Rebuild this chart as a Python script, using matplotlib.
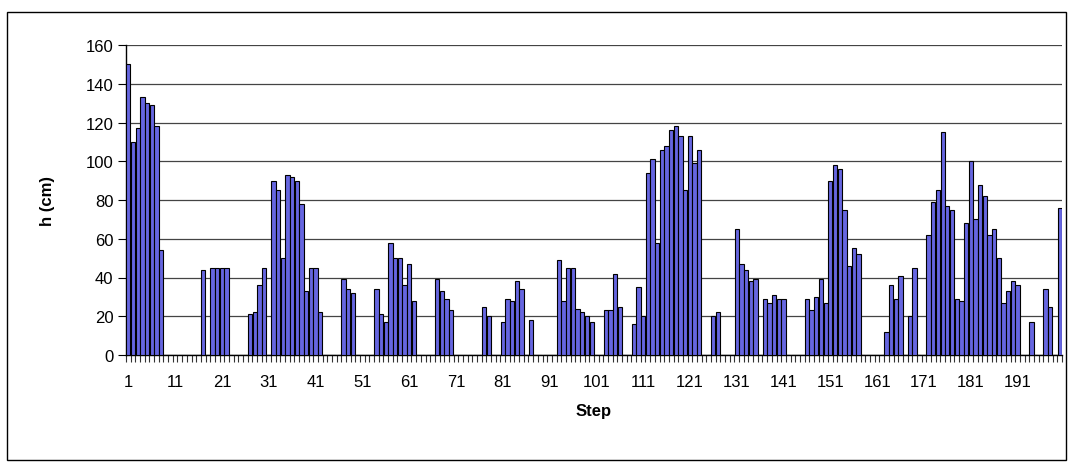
import numpy as np
import matplotlib.pyplot as plt
from matplotlib.patches import Rectangle

# bar height per step, cm (0 = no bar)
steps = np.arange(1, 201)
h_cm = np.zeros(200)
h_nonzero = {
    1: 150, 2: 110, 3: 117, 4: 133, 5: 130, 6: 129, 7: 118, 8: 54,
    17: 44, 19: 45, 20: 45, 21: 45, 22: 45,
    27: 21, 28: 22, 29: 36, 30: 45,
    32: 90, 33: 85, 34: 50, 35: 93, 36: 92, 37: 90, 38: 78, 39: 33, 40: 45, 41: 45, 42: 22,
    47: 39, 48: 34, 49: 32,
    54: 34, 55: 21, 56: 17, 57: 58, 58: 50, 59: 50, 60: 36, 61: 47, 62: 28,
    67: 39, 68: 33, 69: 29, 70: 23,
    77: 25, 78: 20,
    81: 17, 82: 29, 83: 28, 84: 38, 85: 34,
    87: 18,
    93: 49, 94: 28, 95: 45, 96: 45, 97: 24, 98: 22, 99: 20, 100: 17,
    103: 23, 104: 23, 105: 42, 106: 25,
    109: 16, 110: 35, 111: 20, 112: 94, 113: 101, 114: 58, 115: 106, 116: 108,
    117: 116, 118: 118, 119: 113, 120: 85, 121: 113, 122: 99, 123: 106,
    126: 20, 127: 22,
    131: 65, 132: 47, 133: 44, 134: 38, 135: 39,
    137: 29, 138: 27, 139: 31, 140: 29, 141: 29,
    146: 29, 147: 23, 148: 30, 149: 39, 150: 27, 151: 90, 152: 98, 153: 96,
    154: 75, 155: 46, 156: 55, 157: 52,
    163: 12, 164: 36, 165: 29, 166: 41,
    168: 20, 169: 45,
    172: 62, 173: 79, 174: 85, 175: 115, 176: 77, 177: 75, 178: 29, 179: 28,
    180: 68, 181: 100, 182: 70, 183: 88, 184: 82, 185: 62, 186: 65, 187: 50,
    188: 27, 189: 33, 190: 38, 191: 36,
    194: 17, 197: 34, 198: 25, 200: 76,
}
for k, v in h_nonzero.items():
    h_cm[k - 1] = v

tick_steps = np.arange(1, 192, 10)
y_ticks = np.arange(0, 161, 20)

plt.rcParams['font.family'] = ['Liberation Sans', 'DejaVu Sans']

fig = plt.figure(figsize=(10.70, 4.64), dpi=100)
ax = fig.add_axes([126 / 1070, 108 / 464, 936 / 1070, 310 / 464])

ax.bar(steps, h_cm, width=0.92, color='#6666e0', edgecolor='black', linewidth=0.8, zorder=3)

ax.set_xlim(0.5, 200.5)
ax.set_ylim(0, 160)
ax.set_yticks(y_ticks)
ax.yaxis.grid(True, color='#444444', linewidth=0.9, zorder=0)

ax.set_xticks(tick_steps)
ax.set_xticks(np.arange(0.5, 201, 1), minor=True)
ax.tick_params(axis='x', which='major', length=0, pad=14, labelsize=12)
ax.tick_params(axis='x', which='minor', length=5, width=0.8, color='#333333')
ax.tick_params(axis='y', length=6, width=0.8, labelsize=12, pad=3)

for side in ('top', 'right'):
    ax.spines[side].set_visible(False)
ax.spines['left'].set_linewidth(1.0)
ax.spines['bottom'].set_linewidth(1.0)

ax.set_xlabel('Step', fontsize=12, fontweight='bold', labelpad=10)
ax.set_ylabel('h (cm)', fontsize=12, fontweight='bold', labelpad=22)

# chart frame
fig.patches.append(Rectangle((7 / 1070, 3 / 464), 1059 / 1070, 448 / 464,
                             transform=fig.transFigure, fill=False,
                             edgecolor='black', linewidth=1.0))

fig.savefig('out.png', dpi=100, facecolor='white')
